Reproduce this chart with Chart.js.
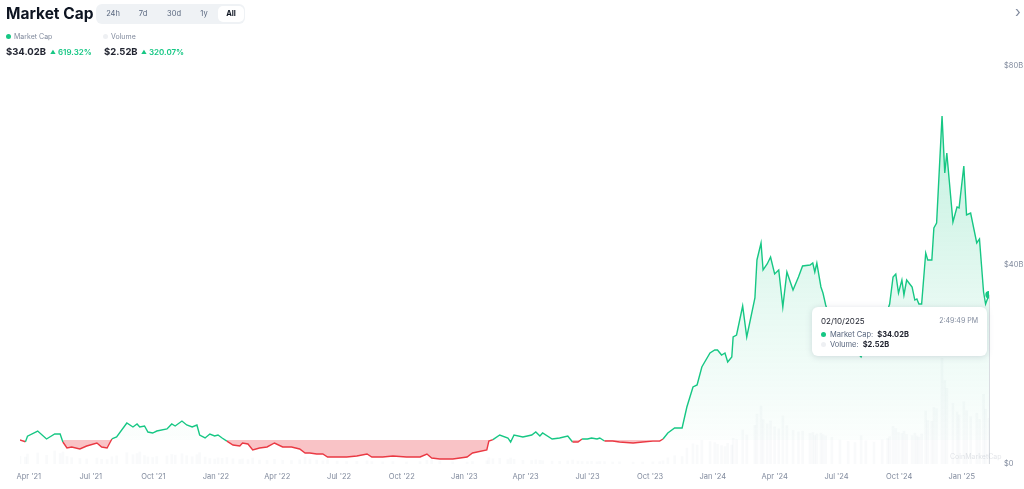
<!DOCTYPE html>
<html>
<head>
<meta charset="utf-8">
<script src="https://cdn.jsdelivr.net/npm/chart.js@4.4.1/dist/chart.umd.min.js"></script>
<style>
  html, body { margin: 0; padding: 0; background: #fff; font-family: Inter, "Noto Sans", sans-serif; }
  #wrap { position: relative; width: 1024px; height: 489px; overflow: hidden; }
  #wrap canvas { position: absolute; left: 0; top: 0; }
  .abs { position: absolute; white-space: nowrap; }
  .title { left: 6px; top: 5px; font-size: 15.5px; font-weight: 700; color: #0d1421; line-height: 18px; }
  .tabs { left: 96px; top: 4px; width: 149px; height: 20px; background: #eff2f5; border-radius: 6px; }
  .tabs span { position: absolute; top: 2px; width: 26px; height: 16px; line-height: 16px; text-align: center; font-size: 7.5px; color: #58667e; }
  .tabs span.on { background: #fff; border-radius: 5px; color: #0d1421; font-weight: 700; }
  .leg { top: 32px; font-size: 7px; color: #808a9d; line-height: 10px; }
  .leg i { display: inline-block; width: 5px; height: 5px; border-radius: 50%; margin-right: 3px; vertical-align: 0px; }
  .val { top: 46px; font-size: 9.5px; font-weight: 700; color: #222531; line-height: 12px; }
  .chg { top: 47px; font-size: 8px; font-weight: 600; color: #16c784; line-height: 11px; }
  .chg b { font-size: 5.5px; vertical-align: 1px; margin-right: 2px; }
  .arrow { left: 1015px; top: 2px; font-size: 15px; color: #808a9d; }
  #tip { left: 812px; top: 307px; width: 175px; height: 49px; background: #fff; border-radius: 6px;
         box-shadow: 0 1px 6px rgba(88,102,126,0.22); font-size: 7.5px; color: #58667e; }
  #tip .d { position: absolute; left: 9px; top: 9px; color: #222531; font-size: 8px; }
  #tip .t { position: absolute; right: 9px; top: 9px; color: #808a9d; font-size: 7px; }
  #tip .r { position: absolute; left: 9px; line-height: 10px; }
  #tip .r i { display: inline-block; width: 5px; height: 5px; border-radius: 50%; margin-right: 4px; }
  #tip .r b { color: #222531; margin-left: 4px; }
  .wm { left: 950px; top: 452px; font-size: 7px; color: rgba(128,138,157,0.22); }
</style>
</head>
<body>
<div id="wrap">
  <canvas id="grafico" width="1024" height="489"></canvas>
  <div class="abs title">Market Cap</div>
  <div class="abs tabs">
    <span style="left:4px">24h</span><span style="left:34px">7d</span><span style="left:65px">30d</span><span style="left:95px">1y</span><span class="on" style="left:122px">All</span>
  </div>
  <div class="abs leg" style="left:6px"><i style="background:#16c784"></i>Market Cap</div>
  <div class="abs leg" style="left:103px"><i style="background:#eef0f3"></i>Volume</div>
  <div class="abs val" style="left:6px">$34.02B</div>
  <div class="abs chg" style="left:50px"><b>▲</b>619.32%</div>
  <div class="abs val" style="left:104px">$2.52B</div>
  <div class="abs chg" style="left:141px"><b>▲</b>320.07%</div>
  <div class="abs arrow">›</div>
  <div class="abs wm">CoinMarketCap</div>
  <div class="abs" id="tip">
    <div class="d" id="tipDate"></div>
    <div class="t">2:49:49 PM</div>
    <div class="r" style="top:23px"><i style="background:#16c784"></i>Market Cap:<b id="tipCap"></b></div>
    <div class="r" style="top:33px"><i style="background:#eef0f3"></i>Volume:<b id="tipVol"></b></div>
  </div>
</div>
<script>
// Datas dos pontos (amostragem)
const datas = [
  '2021-03-19','2021-03-27','2021-03-30','2021-04-14','2021-04-27','2021-05-09','2021-05-17','2021-05-21','2021-05-27','2021-06-03',
  '2021-06-15','2021-06-25','2021-07-10','2021-07-17','2021-07-25','2021-08-01','2021-08-08','2021-08-23','2021-09-01','2021-09-07',
  '2021-09-11','2021-09-18','2021-09-23','2021-09-30','2021-10-06','2021-10-21','2021-10-28','2021-11-02','2021-11-12','2021-11-19',
  '2021-11-27','2021-12-04','2021-12-08','2021-12-16','2021-12-23','2021-12-30',
  '2022-01-04','2022-01-10','2022-01-17','2022-01-26','2022-02-05','2022-02-09','2022-02-17','2022-02-24','2022-03-06','2022-03-17',
  '2022-03-28','2022-04-09','2022-04-22','2022-05-04','2022-05-12','2022-05-19','2022-05-29','2022-06-07','2022-06-14','2022-06-28',
  '2022-07-12','2022-07-27','2022-08-11','2022-08-18','2022-09-03','2022-09-18','2022-10-08','2022-10-28','2022-11-07','2022-11-14',
  '2022-11-26','2022-12-15',
  '2023-01-05','2023-01-13','2023-02-03','2023-02-06','2023-02-12','2023-02-22','2023-03-06','2023-03-10','2023-03-15','2023-03-28',
  '2023-04-10','2023-04-16','2023-04-22','2023-04-26','2023-05-10','2023-05-21','2023-06-02','2023-06-09','2023-06-17','2023-06-23',
  '2023-07-01','2023-07-07','2023-07-15','2023-07-19','2023-07-26','2023-08-07','2023-08-17','2023-09-06','2023-09-20','2023-10-05',
  '2023-10-15','2023-10-20','2023-10-27','2023-11-06','2023-11-17','2023-11-24','2023-12-03','2023-12-09','2023-12-16','2023-12-28',
  '2024-01-04','2024-01-08','2024-01-14','2024-01-19','2024-01-23','2024-01-29','2024-01-31','2024-02-05','2024-02-14','2024-02-20',
  '2024-03-03','2024-03-06','2024-03-12','2024-03-15','2024-03-21','2024-03-26','2024-04-01','2024-04-07','2024-04-13','2024-04-19',
  '2024-04-28','2024-05-06','2024-05-12','2024-05-23','2024-05-27','2024-05-30','2024-06-02','2024-06-08','2024-06-11','2024-06-15',
  '2024-06-24','2024-07-06','2024-07-18','2024-07-28','2024-08-06','2024-08-13','2024-08-25','2024-09-06','2024-09-14','2024-09-17',
  '2024-09-22','2024-09-26','2024-09-30','2024-10-05','2024-10-08','2024-10-12','2024-10-20','2024-10-24','2024-10-27','2024-10-30',
  '2024-11-03','2024-11-09','2024-11-12','2024-11-18','2024-11-21','2024-11-25','2024-12-03','2024-12-07','2024-12-10','2024-12-19',
  '2024-12-25','2024-12-28',
  '2025-01-04','2025-01-08','2025-01-14','2025-01-23','2025-01-27','2025-02-02','2025-02-05','2025-02-10'
];

// Market cap em bilhões de USD
const marketCap = [
  4.82, 4.45, 5.60, 6.63, 5.03, 6.03, 6.03, 4.42, 3.22, 3.42,
  3.02, 3.62, 4.22, 3.42, 3.22, 5.03, 5.43, 8.24, 7.44, 8.04,
  7.44, 7.64, 6.43, 6.23, 6.63, 7.04, 8.04, 7.64, 8.64, 7.84,
  7.44, 7.84, 5.83, 5.23, 6.03, 5.63,
  5.83, 5.23, 4.60, 3.82, 3.62, 4.22, 4.02, 2.81, 3.22, 3.42,
  4.22, 3.42, 3.42, 3.02, 2.21, 2.21, 2.01, 2.01, 1.41, 1.41,
  1.41, 1.61, 2.01, 1.41, 1.41, 1.61, 1.41, 1.41, 2.01, 1.21,
  1.01, 1.01,
  1.41, 2.21, 2.81, 4.62, 4.90, 5.83, 5.23, 4.42, 5.83, 5.43,
  5.83, 6.43, 5.63, 6.23, 5.03, 5.23, 5.63, 4.42, 4.42, 5.03,
  5.03, 5.23, 5.03, 5.23, 4.62, 4.62, 4.42, 4.22, 4.42, 4.60,
  4.60, 5.03, 6.23, 7.24, 7.24, 11.46, 15.48, 15.88, 19.50, 22.31,
  22.91, 22.91, 21.91, 22.31, 20.50, 21.51, 25.53, 25.93, 31.76, 25.53,
  33.37, 41.01, 44.42, 39.00, 40.20, 41.61, 38.19, 39.00, 31.56, 38.59,
  34.97, 37.59, 39.80, 40.00, 40.40, 38.59, 40.40, 35.58, 34.37, 31.96,
  27.94, 24.92, 23.92, 22.91, 21.51, 23.92, 25.93, 28.54, 30.95, 32.16,
  37.59, 38.19, 34.37, 36.98, 33.97, 36.98, 35.58, 32.96, 33.17, 32.16,
  32.16, 42.41, 41.01, 41.01, 47.44, 48.44, 69.95, 58.49, 62.51, 48.64,
  51.66, 51.46,
  59.90, 50.05, 50.45, 44.42, 45.23, 34.57, 32.16, 34.02
];

// Volume em bilhões de USD
const volume = [
  0.42, 0.38, 0.55, 0.61, 0.48, 0.72, 0.58, 0.66, 0.41, 0.35,
  0.30, 0.28, 0.33, 0.26, 0.24, 0.40, 0.45, 0.62, 0.51, 0.58,
  0.66, 0.47, 0.39, 0.36, 0.42, 0.44, 0.53, 0.49, 0.57, 0.46,
  0.40, 0.51, 0.63, 0.38, 0.30, 0.27,
  0.34, 0.31, 0.36, 0.29, 0.25, 0.28, 0.24, 0.33, 0.22, 0.20,
  0.26, 0.21, 0.19, 0.23, 0.37, 0.28, 0.22, 0.18, 0.25, 0.16,
  0.14, 0.15, 0.17, 0.13, 0.12, 0.14, 0.11, 0.13, 0.21, 0.28,
  0.16, 0.12,
  0.10, 0.14, 0.18, 0.35, 0.29, 0.31, 0.24, 0.33, 0.26, 0.20,
  0.19, 0.23, 0.21, 0.18, 0.16, 0.15, 0.17, 0.22, 0.16, 0.14,
  0.13, 0.15, 0.12, 0.14, 0.13, 0.11, 0.12, 0.10, 0.11, 0.12,
  0.13, 0.18, 0.34, 0.46, 0.41, 0.88, 1.12, 1.05, 1.31, 1.24,
  1.18, 1.09, 1.02, 0.96, 1.14, 1.05, 1.42, 1.35, 1.88, 1.61,
  2.14, 2.76, 3.21, 2.45, 2.22, 2.38, 2.05, 1.94, 2.66, 2.12,
  1.86, 1.77, 1.82, 1.69, 1.74, 1.58, 1.66, 1.71, 1.62, 1.55,
  1.48, 1.32, 1.25, 1.19, 1.56, 1.28, 1.21, 1.34, 1.41, 1.52,
  2.08, 1.96, 1.74, 1.69, 1.82, 1.63, 1.58, 1.71, 1.55, 1.49,
  1.66, 2.94, 2.41, 2.36, 3.12, 3.05, 5.84, 4.62, 4.18, 3.36,
  2.88, 2.71,
  3.44, 2.95, 2.62, 2.81, 2.47, 3.86, 3.02, 2.52
];

// Eixos
const ticksX = ['2021-04-01','2021-07-01','2021-10-01','2022-01-01','2022-04-01','2022-07-01','2022-10-01','2023-01-01',
                '2023-04-01','2023-07-01','2023-10-01','2024-01-01','2024-04-01','2024-07-01','2024-10-01','2025-01-01'];
const labelsX = ["Apr '21","Jul '21","Oct '21","Jan '22","Apr '22","Jul '22","Oct '22","Jan '23",
                 "Apr '23","Jul '23","Oct '23","Jan '24","Apr '24","Jul '24","Oct '24","Jan '25"];
const ticksY = [0, 40, 80];
const linhaBase = marketCap[0];

const VERDE = '#16c784';
const VERMELHO = '#ea3943';

function dia(s) {
    return Date.parse(s + 'T00:00:00Z') / 86400000;
}

const pontosCap = datas.map((d, i) => ({ x: dia(d), y: marketCap[i] }));
const pontosVol = datas.map((d, i) => ({ x: dia(d), y: volume[i] }));
const ultimo = pontosCap.length - 1;

// tooltip fixo no último ponto
const [aa, mm, dd] = datas[ultimo].split('-');
document.getElementById('tipDate').textContent = mm + '/' + dd + '/' + aa;
document.getElementById('tipCap').textContent = '$' + marketCap[ultimo].toFixed(2) + 'B';
document.getElementById('tipVol').textContent = '$' + volume[ultimo].toFixed(2) + 'B';

const linhaHover = {
    id: 'linhaHover',
    beforeDatasetsDraw(chart) {
        const p = chart.getDatasetMeta(1).data[ultimo];
        if (!p) return;
        const c = chart.ctx;
        c.save();
        c.strokeStyle = 'rgba(128,138,157,0.3)';
        c.lineWidth = 1;
        c.beginPath();
        c.moveTo(Math.round(p.x) + 0.5, p.y);
        c.lineTo(Math.round(p.x) + 0.5, chart.chartArea.bottom);
        c.stroke();
        c.restore();
    }
};

const config = {
    type: 'line',
    data: {
        datasets: [{
            type: 'bar',
            label: 'Volume',
            data: pontosVol,
            yAxisID: 'yVol',
            backgroundColor: 'rgba(160,170,185,0.06)',
            barThickness: 2,
            order: 2
        }, {
            label: 'Market Cap',
            data: pontosCap,
            yAxisID: 'y',
            borderWidth: 1.4,
            tension: 0,
            pointRadius: ctx => ctx.dataIndex === ultimo ? 3 : 0,
            pointBackgroundColor: VERDE,
            pointBorderColor: VERDE,
            borderColor: VERDE,
            segment: {
                borderColor: ctx => ((ctx.p0.parsed.y + ctx.p1.parsed.y) / 2 < linhaBase) ? VERMELHO : VERDE
            },
            backgroundColor: ctx => {
                const area = ctx.chart.chartArea;
                if (!area) return 'rgba(22,199,132,0.15)';
                const g = ctx.chart.ctx.createLinearGradient(0, area.top, 0, area.bottom);
                g.addColorStop(0, 'rgba(22,199,132,0.30)');
                g.addColorStop(0.6, 'rgba(22,199,132,0.10)');
                g.addColorStop(1, 'rgba(22,199,132,0.0)');
                return g;
            },
            fill: {
                target: { value: linhaBase },
                below: 'rgba(234,57,67,0.30)'
            },
            order: 1
        }]
    },
    options: {
        responsive: false,
        animation: false,
        layout: { padding: { top: 66, left: 20, right: 0, bottom: 0 } },
        plugins: {
            legend: { display: false },
            tooltip: { enabled: false }
        },
        scales: {
            x: {
                type: 'linear',
                min: dia(datas[0]),
                max: dia(datas[ultimo]),
                offset: false,
                grid: { display: false, drawTicks: false },
                border: { display: false },
                afterBuildTicks: scale => { scale.ticks = ticksX.map(d => ({ value: dia(d) })); },
                afterFit: scale => { scale.height = 25; },
                ticks: {
                    autoSkip: false,
                    maxRotation: 0,
                    padding: 8,
                    color: '#808a9d',
                    font: { family: 'Inter', size: 7.5 },
                    callback: (v, i) => labelsX[i]
                }
            },
            y: {
                position: 'right',
                min: 0,
                max: 80,
                grid: { display: false, drawTicks: false },
                border: { display: false },
                afterBuildTicks: scale => { scale.ticks = ticksY.map(v => ({ value: v })); },
                afterFit: scale => { scale.width = 35; },
                ticks: {
                    padding: 15,
                    color: '#808a9d',
                    font: { family: 'Inter', size: 7.5 },
                    callback: v => v === 0 ? '$0' : '$' + v + 'B'
                }
            },
            yVol: {
                display: false,
                min: 0,
                max: 22
            }
        }
    },
    plugins: [linhaHover]
};

window.onload = function() {
    new Chart(document.getElementById('grafico'), config);
};
</script>
</body>
</html>
